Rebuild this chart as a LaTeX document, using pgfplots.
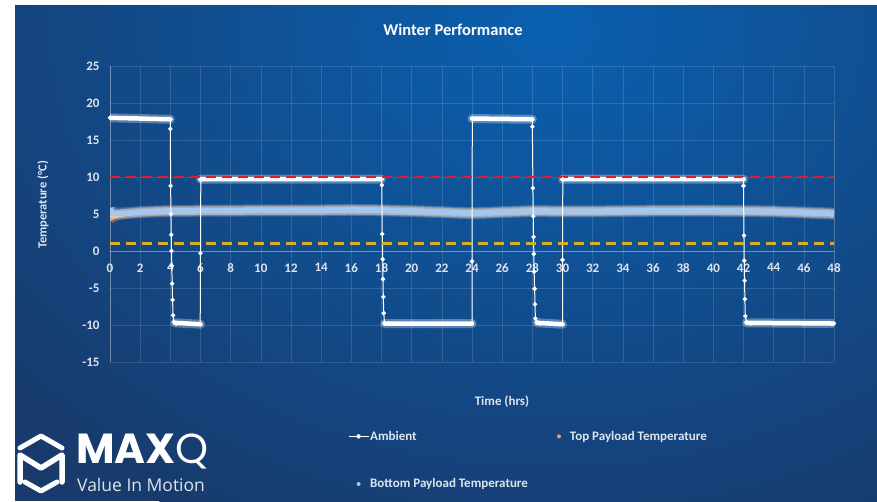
\documentclass[border=0pt]{standalone}
\usepackage{pgfplots}
\pgfplotsset{compat=1.18}
\usepackage{graphicx}
\usepackage{fontspec}
\setmainfont{Carlito}
\newfontfamily\logofont{Poppins}
\newfontfamily\logosub{Open Sans}
\definecolor{navy}{RGB}{24,58,108}
\definecolor{lightblu}{RGB}{10,96,176}
\definecolor{tickc}{RGB}{222,228,238}
\definecolor{redl}{RGB}{228,28,36}
\definecolor{yell}{RGB}{214,178,32}
\definecolor{payblue}{RGB}{162,200,240}
\definecolor{payorange}{RGB}{240,158,98}
\begin{document}
\begin{tikzpicture}
\useasboundingbox (0,0) rectangle (877pt,501pt);
\fill[white] (0,0) rectangle (877pt,501pt);
\begin{scope}
\clip (15pt,0) rectangle (877pt,495pt);
\fill[navy] (15pt,0) rectangle (877pt,495pt);
\shade[inner color=lightblu, outer color=navy] (550pt,470pt) ellipse (720pt and 560pt);
\end{scope}
% logo
\begin{scope}[white, line cap=round, line join=round]
\draw[line width=5pt] (20pt,53pt) -- (41pt,65pt) -- (62pt,53pt);
\draw[line width=5.5pt] (20pt,19pt) -- (20pt,46pt) -- (41pt,33pt) -- (62pt,46pt) -- (62pt,19pt);
\draw[line width=5pt] (25pt,19pt) -- (41pt,10pt) -- (57pt,19pt);
\end{scope}
\node[anchor=base west, inner sep=0pt, text=white] at (76pt,38pt) {\logofont\fontsize{42}{42}\selectfont\bfseries MAX\mdseries Q};
\node[anchor=base west, inner sep=0pt, text=tickc] at (77pt,10pt) {\logosub\fontsize{17.5}{17.5}\selectfont Value In Motion};
% titles
\node[text=white, font=\bfseries\fontsize{16.5}{18}\selectfont] at (453pt,471pt) {Winter Performance};
\node[text=tickc, rotate=90, font=\bfseries\fontsize{12.5}{14}\selectfont] at (43pt,296pt) {Temperature (°C)};
\node[text=tickc, font=\bfseries\fontsize{13}{15}\selectfont] at (502pt,99pt) {Time (hrs)};
\begin{axis}[
  at={(110pt,139pt)}, anchor=south west,
  scale only axis, width=724pt, height=296pt,
  xmin=0, xmax=48, ymin=-15, ymax=25,
  xtick={0,2,...,48}, ytick={-15,-10,...,25},
  axis x line=middle, axis y line=left,
  hide obscured x ticks=false, hide obscured y ticks=false,
  axis line style={draw=white, draw opacity=0.3, -},
  major tick length=0pt,
  grid=major,
  major grid style={draw=white, draw opacity=0.13, line width=0.5pt},
  /pgf/number format/assume math mode=true,
  tick label style={font=\bfseries\fontsize{13}{15}\selectfont, text=tickc},
  xticklabel style={yshift=-9pt},
  yticklabel style={xshift=-7pt},
  legend style={at={(0.3287,-0.230)}, anchor=north west, draw=none, fill=none,
    inner sep=0pt, outer sep=0pt, row sep=35pt,
    font=\bfseries\fontsize{13}{15}\selectfont, text=tickc,
    nodes={inner sep=1pt},
    /tikz/every even column/.append style={column sep=20pt}},
  legend columns=2, legend cell align=left,
]
\addlegendimage{draw=none, legend image code/.code={\draw[white, line width=1.2pt] (0pt,0pt) -- (20pt,0pt); \fill[white] (10pt,0pt) circle (2.2pt);}}
\addlegendentry{Ambient}
\addlegendimage{draw=none, legend image code/.code={\path[draw=none] (0pt,0pt) rectangle (20pt,0.1pt); \fill[payorange, draw=none] (10pt,0pt) circle (2pt);}}
\addlegendentry{Top Payload Temperature}
\addlegendimage{draw=none, legend image code/.code={\path[draw=none] (0pt,0pt) rectangle (20pt,0.1pt); \fill[payblue, draw=none] (10pt,0pt) circle (2pt);}}
\addlegendentry{Bottom Payload Temperature}

% Top payload (orange)
\addplot[payorange, opacity=0.35, line width=10pt, forget plot, line join=round] coordinates {
(0,4.3) (0.2,4.6) (0.5,4.85) (1,5.05) (2,5.25) (3,5.35) (4,5.4) (6,5.45) (8,5.45) (10,5.5) (12,5.5) (14,5.5) (16,5.55) (18,5.5) (20,5.4) (22,5.25) (24,5.1) (26,5.25) (28,5.4) (30,5.35) (32,5.35) (34,5.4) (36,5.45) (38,5.45) (40,5.45) (42,5.4) (44,5.35) (46,5.2) (48,5.05)};
\addplot[payorange, line width=5pt, forget plot, line join=round] coordinates {
(0,4.3) (0.2,4.6) (0.5,4.85) (1,5.05) (2,5.25) (3,5.35) (4,5.4) (6,5.45) (8,5.45) (10,5.5) (12,5.5) (14,5.5) (16,5.55) (18,5.5) (20,5.4) (22,5.25) (24,5.1) (26,5.25) (28,5.4) (30,5.35) (32,5.35) (34,5.4) (36,5.45) (38,5.45) (40,5.45) (42,5.4) (44,5.35) (46,5.2) (48,5.05)};
% Bottom payload (blue)
\pgfplotstableread{
x y
0 5.8
0.1 5.15
0.5 5.05
1 5.1
2 5.25
3 5.35
4 5.4
6 5.45
8 5.45
10 5.5
12 5.5
14 5.5
16 5.55
18 5.5
20 5.4
22 5.25
24 5.1
26 5.25
28 5.4
30 5.35
32 5.35
34 5.4
36 5.45
38 5.45
40 5.45
42 5.4
44 5.35
46 5.2
48 5.05
}\bottomtab
\addplot[white, opacity=0.2, line width=12pt, forget plot, line join=round] table[x=x,y=y] {\bottomtab};
\addplot[white, opacity=0.3, line width=8.5pt, forget plot, line join=round] table[x=x,y=y] {\bottomtab};
\addplot[payblue, line width=5.5pt, forget plot, line join=round] table[x=x,y=y] {\bottomtab};

% Ambient plateaus (glow + thick)
\pgfplotstableread{
x y
0 18.0
4.0 17.8
nan nan
4.3 -9.7
6.0 -9.9
nan nan
6.0 9.7
18.0 9.7
nan nan
18.2 -9.8
24.0 -9.8
nan nan
24.0 17.9
28.0 17.8
nan nan
28.3 -9.7
30.0 -9.9
nan nan
30.0 9.7
42.0 9.7
nan nan
42.2 -9.7
48.0 -9.8
}\plateau
\addplot[white, opacity=0.3, line width=9pt, forget plot, unbounded coords=jump, line cap=round] table[x=x,y=y] {\plateau};
\addplot[white, line width=4.5pt, forget plot, unbounded coords=jump, line cap=round] table[x=x,y=y] {\plateau};
% Ambient
\addplot[white, line width=1pt, mark=*, mark size=1.7pt, mark options={fill=white, draw=white}, forget plot] coordinates {
(0,18.0) (4.0,17.8) (4.0,16.5) (4.02,8.8) (4.04,5.0) (4.06,2.2) (4.08,0.0) (4.1,-2.0) (4.12,-4.4) (4.15,-6.6) (4.18,-8.7) (4.25,-9.6) (4.4,-9.8)
(5.98,-9.9) (6.0,-0.3) (6.02,9.6)
(18.0,9.7) (18.02,8.9) (18.05,2.3) (18.08,-1.1) (18.1,-3.8) (18.12,-6.2) (18.15,-8.4) (18.2,-9.7) (18.5,-9.8)
(24.0,-9.8) (24.0,-1.4) (24.02,17.9)
(28.0,17.8) (28.0,16.8) (28.04,8.5) (28.06,4.7) (28.08,1.9) (28.1,-0.4) (28.12,-2.8) (28.15,-5.1) (28.18,-7.2) (28.2,-9.1) (28.3,-9.6) (28.5,-9.8)
(30.0,-9.9) (30.0,-1.2) (30.02,9.7)
(42.0,9.7) (42.0,8.8) (42.03,2.1) (42.05,-1.3) (42.07,-4.0) (42.09,-6.5) (42.12,-8.8) (42.2,-9.6) (42.5,-9.8)
(48.0,-9.8)};
\addplot[white, line width=1pt, forget plot] coordinates {(48.0,-9.8) (48.0,18.0)};
% limit lines
\addplot[redl, line width=2.6pt, dash pattern=on 10pt off 6pt, forget plot] coordinates {(0,10) (48,10)};
\addplot[yell, line width=2.6pt, dash pattern=on 10pt off 6pt, forget plot] coordinates {(0,1) (48,1)};
\end{axis}
\end{tikzpicture}
\end{document}
